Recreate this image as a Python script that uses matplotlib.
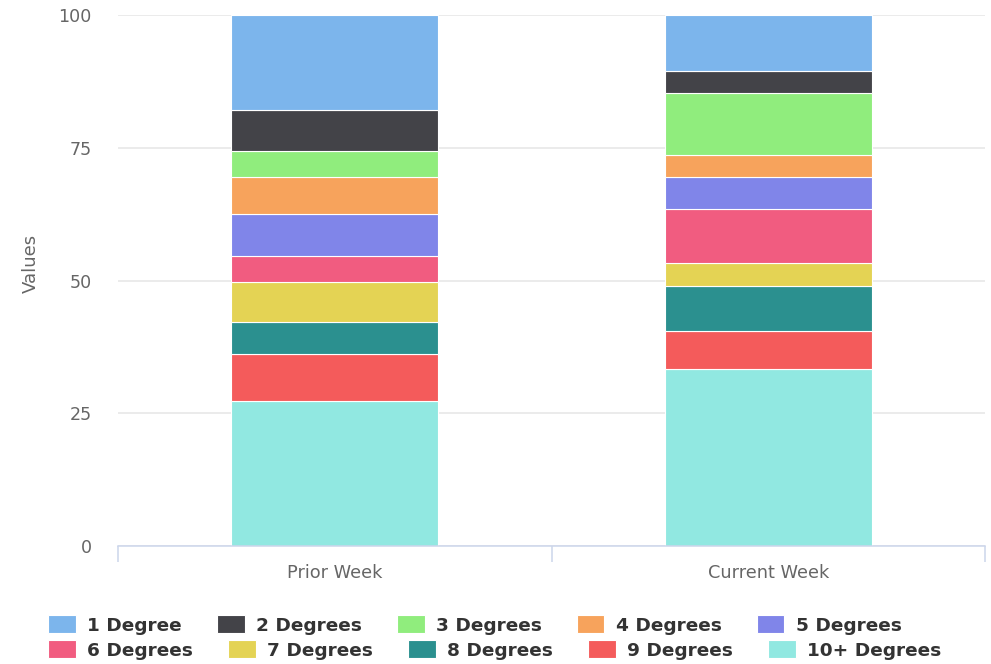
import matplotlib.pyplot as plt
import numpy as np

# Values (percent of each week)
weeks = ["Prior Week", "Current Week"]
series_names = ["1 Degree", "2 Degrees", "3 Degrees", "4 Degrees", "5 Degrees",
                "6 Degrees", "7 Degrees", "8 Degrees", "9 Degrees", "10+ Degrees"]
prior_week = [17.8, 7.8, 5.0, 6.8, 7.9, 5.0, 7.6, 5.9, 8.8, 27.4]
current_week = [10.5, 4.2, 11.6, 4.3, 5.9, 10.2, 4.3, 8.5, 7.2, 33.3]
colors = ["#7cb5ec", "#434348", "#90ed7d", "#f7a35c", "#8085e9",
          "#f15c80", "#e4d354", "#2b908f", "#f45b5b", "#91e8e1"]
y_ticks = [0, 25, 50, 75, 100]

fig = plt.figure(figsize=(9.91, 6.64), dpi=100)
ax = fig.add_axes([118 / 991, 118 / 664, 867 / 991, 531 / 664])

values = np.array([prior_week, current_week]).T  # shape (series, weeks)
positions = np.arange(len(weeks))

# first series sits on top, so stack from the last one upwards
bottom = np.zeros(len(weeks))
handles = [None] * len(series_names)
for i in range(len(series_names) - 1, -1, -1):
    handles[i] = ax.bar(positions, values[i], width=0.478, bottom=bottom,
                        color=colors[i], edgecolor="white", linewidth=0.8,
                        label=series_names[i], zorder=2)
    bottom += values[i]

ax.set_xlim(-0.5, 1.5)
ax.set_ylim(0, 100)
ax.set_yticks(y_ticks)
ax.set_yticklabels([str(t) for t in y_ticks], color="#666666", fontsize=12.6)
ax.tick_params(axis="y", length=0, pad=19)
ax.yaxis.grid(True, color="#e6e6e6", linewidth=1.1, zorder=0)
ax.set_axisbelow(True)

ax.set_xticks(positions)
ax.set_xticklabels(weeks, color="#666666", fontsize=12.8)
ax.set_xticks([-0.5, 0.5, 1.5], minor=True)
ax.tick_params(axis="x", which="major", length=0, pad=13)
ax.tick_params(axis="x", which="minor", length=11.5, width=1.1, color="#ccd6eb")

for side in ["top", "right", "left"]:
    ax.spines[side].set_visible(False)
ax.spines["bottom"].set_color("#ccd6eb")
ax.spines["bottom"].set_linewidth(1.1)
ax.spines["bottom"].set_zorder(3)

ax.set_ylabel("Values", color="#666666", fontsize=13)
ax.yaxis.set_label_coords(-0.090, 0.533)

# Legend: two rows that flow like the reference
legend_opts = dict(ncol=5, frameon=False, loc="center left", borderpad=0,
                   borderaxespad=0, handlelength=1.51, handleheight=1.08,
                   handletextpad=0.6, columnspacing=1.9,
                   prop={"weight": "bold", "size": 13.3}, labelcolor="#333333")
row1 = fig.legend(handles=handles[:5], labels=series_names[:5],
                  bbox_to_anchor=(48 / 991, 1 - 625 / 664), **legend_opts)
row2 = fig.legend(handles=handles[5:], labels=series_names[5:],
                  bbox_to_anchor=(48 / 991, 1 - 650 / 664), **legend_opts)

fig.savefig("out.png", dpi=100)
